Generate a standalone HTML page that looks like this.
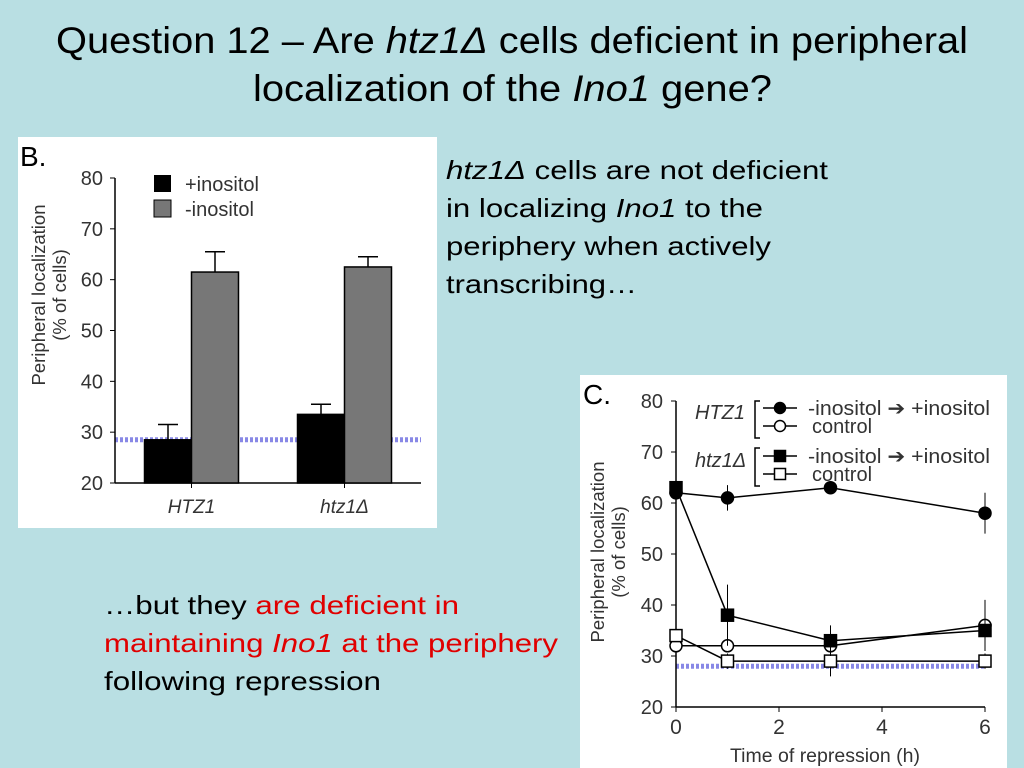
<!DOCTYPE html>
<html><head><meta charset="utf-8"><style>
html,body{margin:0;padding:0;background:#b9dfe3;}
svg{display:block;font-family:"Liberation Sans",Arial,sans-serif;}
</style></head><body>
<svg width="1024" height="768" viewBox="0 0 1024 768">
<rect width="1024" height="768" fill="#b9dfe3"/>
<g font-size="37" fill="#000">
<text x="56" y="53" textLength="912" lengthAdjust="spacingAndGlyphs">Question 12 – Are <tspan font-style="italic">htz1Δ</tspan> cells deficient in peripheral</text>
<text x="253" y="101" textLength="519" lengthAdjust="spacingAndGlyphs">localization of the <tspan font-style="italic">Ino1</tspan> gene?</text>
</g>
<g font-size="26" fill="#000">
<text x="446" y="179" textLength="382" lengthAdjust="spacingAndGlyphs"><tspan font-style="italic">htz1Δ</tspan> cells are not deficient</text>
<text x="446" y="217" textLength="317" lengthAdjust="spacingAndGlyphs">in localizing <tspan font-style="italic">Ino1</tspan> to the</text>
<text x="446" y="255" textLength="325" lengthAdjust="spacingAndGlyphs">periphery when actively</text>
<text x="446" y="293" textLength="191" lengthAdjust="spacingAndGlyphs">transcribing…</text>
</g>
<g font-size="26">
<text x="104" y="614" fill="#000" textLength="355" lengthAdjust="spacingAndGlyphs">…but they <tspan fill="#e00000">are deficient in</tspan></text>
<text x="104" y="652" fill="#e00000" textLength="454" lengthAdjust="spacingAndGlyphs">maintaining <tspan font-style="italic">Ino1</tspan> at the periphery</text>
<text x="104" y="690" fill="#000" textLength="277" lengthAdjust="spacingAndGlyphs">following repression</text>
</g>
<rect x="18" y="137" width="419" height="391" fill="#fff"/>
<g id="chartB"></g>
<rect x="580" y="375" width="427" height="393" fill="#fff"/>
<g id="chartC"></g>
</svg>
<script>
const NS="http://www.w3.org/2000/svg";
function mk(p,tag,at,txt){const e=document.createElementNS(NS,tag);for(const k in at)e.setAttribute(k,at[k]);if(txt!==undefined)e.textContent=txt;p.appendChild(e);return e;}

// ---- Panel B data ----
const bCategories=["HTZ1","htz1Δ"];
const bPlusInositol=[28.5,33.5];
const bPlusErr=[3,2];
const bMinusInositol=[61.5,62.5];
const bMinusErr=[4,2];
const bTicks=[20,30,40,50,60,70,80];
const bBaseline=28.5;

(function(){
const g=document.getElementById('chartB');
const x0=115,x1=421,yA=483,yB=178;
const y=v=>yA-(v-20)/60*(yA-yB);
let t=mk(g,'text',{x:20,y:166,'font-size':28});t.textContent="B.";

const dl=mk(g,'line',{x1:x0,y1:y(bBaseline),x2:x1,y2:y(bBaseline),stroke:'#6b6be0','stroke-width':5,'stroke-dasharray':'3 2',opacity:0.8});

mk(g,'line',{x1:x0,y1:yB,x2:x0,y2:yA,stroke:'#000','stroke-width':1.5});
mk(g,'line',{x1:x0,y1:yA,x2:x1,y2:yA,stroke:'#000','stroke-width':1.5});
bTicks.forEach(v=>{mk(g,'line',{x1:x0-5,y1:y(v),x2:x0,y2:y(v),stroke:'#000'});
 const l=mk(g,'text',{x:x0-12,y:y(v)+7,'font-size':20,'text-anchor':'end',fill:'#333'},String(v));
 });
const yt=mk(g,'text',{transform:'translate(45,295) rotate(-90)','font-size':18.5,'text-anchor':'middle',fill:'#333'});

mk(yt,'tspan',{x:0,y:0},'Peripheral localization');mk(yt,'tspan',{x:0,y:21},'(% of cells)');
const groupW=(x1-x0)/2,bw=47;
bCategories.forEach((c,i)=>{
 const cx=x0+groupW*(i+0.5);
 [[bPlusInositol,bPlusErr,'#000',cx-bw],[bMinusInositol,bMinusErr,'#777',cx]].forEach(([arr,err,col,bx],s)=>{
  const v=arr[i];
  const ex=bx+bw/2;
  mk(g,'line',{x1:ex,y1:y(v),x2:ex,y2:y(v+err[i]),stroke:'#000','stroke-width':1.5});
  mk(g,'line',{x1:ex-10,y1:y(v+err[i]),x2:ex+10,y2:y(v+err[i]),stroke:'#000','stroke-width':1.5});
  const r=mk(g,'rect',{x:bx,y:y(v),width:bw,height:yA-y(v),fill:col,stroke:'#000','stroke-width':1.5});
  
  
 });
 mk(g,'line',{x1:cx,y1:yA,x2:cx,y2:yA+5,stroke:'#000'});
 const l=mk(g,'text',{x:cx,y:yA+30,'font-size':19,'font-style':'italic','text-anchor':'middle',fill:'#333'},c);
 
});
const lg=mk(g,'g',{});
mk(lg,'rect',{x:154,y:175,width:17,height:17,fill:'#000'});
mk(lg,'text',{x:185,y:191,'font-size':20,fill:'#333'},'+inositol');
mk(lg,'rect',{x:154,y:200,width:17,height:17,fill:'#777',stroke:'#000'});
mk(lg,'text',{x:185,y:216,'font-size':20,fill:'#333'},'-inositol');
})();

// ---- Panel C data ----
const cTimes=[0,1,3,6];
const cHtz1Minus=[62,61,63,58];
const cHtz1MinusErr=[0,2.5,0,4];
const cHtz1Control=[32,32,32,36];
const cHtz1ControlErr=[0,0,0,5];
const cDeltaMinus=[63,38,33,35];
const cDeltaMinusErr=[0,6,3,4];
const cDeltaControl=[34,29,29,29];
const cDeltaControlErr=[0,1.5,3,1.5];
const cXTicks=[0,2,4,6];
const cYTicks=[20,30,40,50,60,70,80];
const cBaseline=28;

(function(){
const g=document.getElementById('chartC');
const xA=676,xB=985,yA=707,yB=401;
const x=t=>xA+t/6*(xB-xA);
const y=v=>yA-(v-20)/60*(yA-yB);
let t=mk(g,'text',{x:583,y:404,'font-size':28},'C.');

const dl=mk(g,'line',{x1:xA,y1:y(cBaseline),x2:xB,y2:y(cBaseline),stroke:'#6b6be0','stroke-width':5,'stroke-dasharray':'3 2',opacity:0.8});

mk(g,'line',{x1:xA,y1:yB,x2:xA,y2:yA,stroke:'#000','stroke-width':1.5});
mk(g,'line',{x1:xA,y1:yA,x2:xB,y2:yA,stroke:'#000','stroke-width':1.5});
cYTicks.forEach(v=>{mk(g,'line',{x1:xA-5,y1:y(v),x2:xA,y2:y(v),stroke:'#000'});
 const l=mk(g,'text',{x:xA-13,y:y(v)+7,'font-size':20,'text-anchor':'end',fill:'#333'},String(v));
 });
cXTicks.forEach(v=>{mk(g,'line',{x1:x(v),y1:yA,x2:x(v),y2:yA+5,stroke:'#000'});
 const l=mk(g,'text',{x:x(v),y:yA+27,'font-size':21,'text-anchor':'middle',fill:'#333'},String(v));
 });
const xt=mk(g,'text',{x:825,y:762,'font-size':19.5,'text-anchor':'middle',fill:'#333'},'Time of repression (h)');

const yt=mk(g,'text',{transform:'translate(604,552) rotate(-90)','font-size':18.5,'text-anchor':'middle',fill:'#333'});

mk(yt,'tspan',{x:0,y:0},'Peripheral localization');mk(yt,'tspan',{x:0,y:21},'(% of cells)');
const series=[[cHtz1Control,cHtz1ControlErr,'circle',false,'htz1-control'],[cDeltaControl,cDeltaControlErr,'square',false,'delta-control'],[cDeltaMinus,cDeltaMinusErr,'square',true,'delta-minus-inositol'],[cHtz1Minus,cHtz1MinusErr,'circle',true,'htz1-minus-inositol']];
series.forEach(([vals,errs,shape,filled,name])=>{
 const sg=mk(g,'g',{});
 mk(sg,'polyline',{points:cTimes.map((tt,i)=>x(tt)+','+y(vals[i])).join(' '),fill:'none',stroke:'#000','stroke-width':1.5});
 cTimes.forEach((tt,i)=>{
  const px=x(tt),py=y(vals[i]);
  if(errs[i]>0){mk(sg,'line',{x1:px,y1:y(vals[i]-errs[i]),x2:px,y2:y(vals[i]+errs[i]),stroke:'#000'});}
  let m;
  if(shape==='circle')m=mk(sg,'circle',{cx:px,cy:py,r:6,fill:filled?'#000':'#fff',stroke:'#000','stroke-width':1.5});
  else m=mk(sg,'rect',{x:px-6,y:py-6,width:12,height:12,fill:filled?'#000':'#fff',stroke:'#000','stroke-width':1.5});
  
 });
});
const lg=mk(g,'g',{'font-size':20,fill:'#333'});
mk(lg,'text',{x:695,y:419,'font-style':'italic'},'HTZ1');
mk(lg,'text',{x:695,y:467,'font-style':'italic'},'htz1Δ');
[[401,432],[448,480]].forEach(([a,b])=>{mk(lg,'path',{d:`M760 ${a} h-5 v${b-a+6} h5`,fill:'none',stroke:'#000','stroke-width':1.5});});
const rows=[[408,'circle',true,'-inositol ➔ +inositol',182],[426,'circle',false,' control',0],[447+9,'square',true,'-inositol ➔ +inositol',182],[474,'square',false,' control',0]];
rows.forEach(([ry,sh,f,lab,w])=>{
 mk(lg,'line',{x1:763,y1:ry,x2:797,y2:ry,stroke:'#000','stroke-width':1.5});
 if(sh==='circle')mk(lg,'circle',{cx:780,cy:ry,r:5.5,fill:f?'#000':'#fff',stroke:'#000','stroke-width':1.5});
 else mk(lg,'rect',{x:774.5,y:ry-5.5,width:11,height:11,fill:f?'#000':'#fff',stroke:'#000','stroke-width':1.5});
 const at={x:808,y:ry+7};
 if(w){at.textLength=w;at.lengthAdjust='spacingAndGlyphs';}
 else at.x=812;
 mk(lg,'text',at,lab.trim());
});
})();
</script>
</body></html>
